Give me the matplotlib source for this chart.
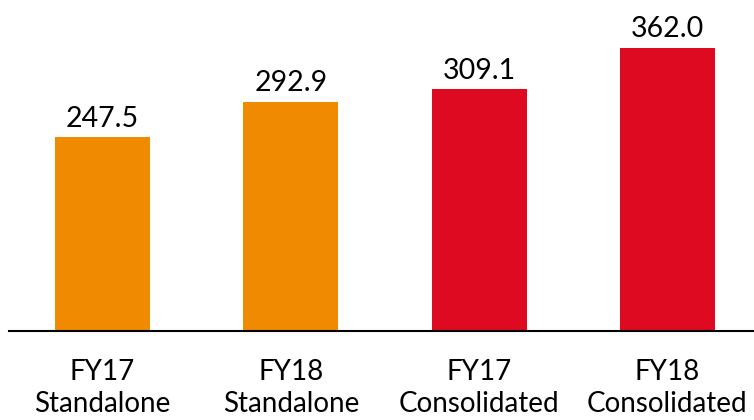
import matplotlib.pyplot as plt

# revenue by reporting basis
categories = ["FY17\nStandalone", "FY18\nStandalone", "FY17\nConsolidated", "FY18\nConsolidated"]
values = [247.5, 292.9, 309.1, 362.0]
colors = ["#F08A00", "#F08A00", "#DE0A21", "#DE0A21"]

plt.rcParams['font.family'] = ['Lato', 'DejaVu Sans']

fig = plt.figure(figsize=(7.54, 4.20), dpi=100)
# axes box in pixel terms: baseline at y=331 from top, left edge at x=9
ax = fig.add_axes([9 / 754, 89 / 420, 745 / 754, 331 / 420])

x = range(len(values))
bars = ax.bar(x, values, width=0.505, color=colors)

for b, v in zip(bars, values):
    ax.annotate(f"{v:.1f}", (b.get_x() + b.get_width() / 2, v),
                xytext=(0, 4), textcoords="offset points",
                ha="center", va="bottom", fontsize=20.5, color="#000000")

ax.set_xlim(-0.497, 3.46)
ax.set_ylim(0, 423)
ax.set_xticks(list(x))
ax.set_xticklabels(categories, fontsize=20, linespacing=1.28)
ax.tick_params(axis="x", length=0, pad=20)
ax.set_yticks([])
for side in ["top", "right", "left"]:
    ax.spines[side].set_visible(False)
ax.spines["bottom"].set_linewidth(1.5)
ax.spines["bottom"].set_color("#000000")

fig.savefig("out.png", dpi=100)
